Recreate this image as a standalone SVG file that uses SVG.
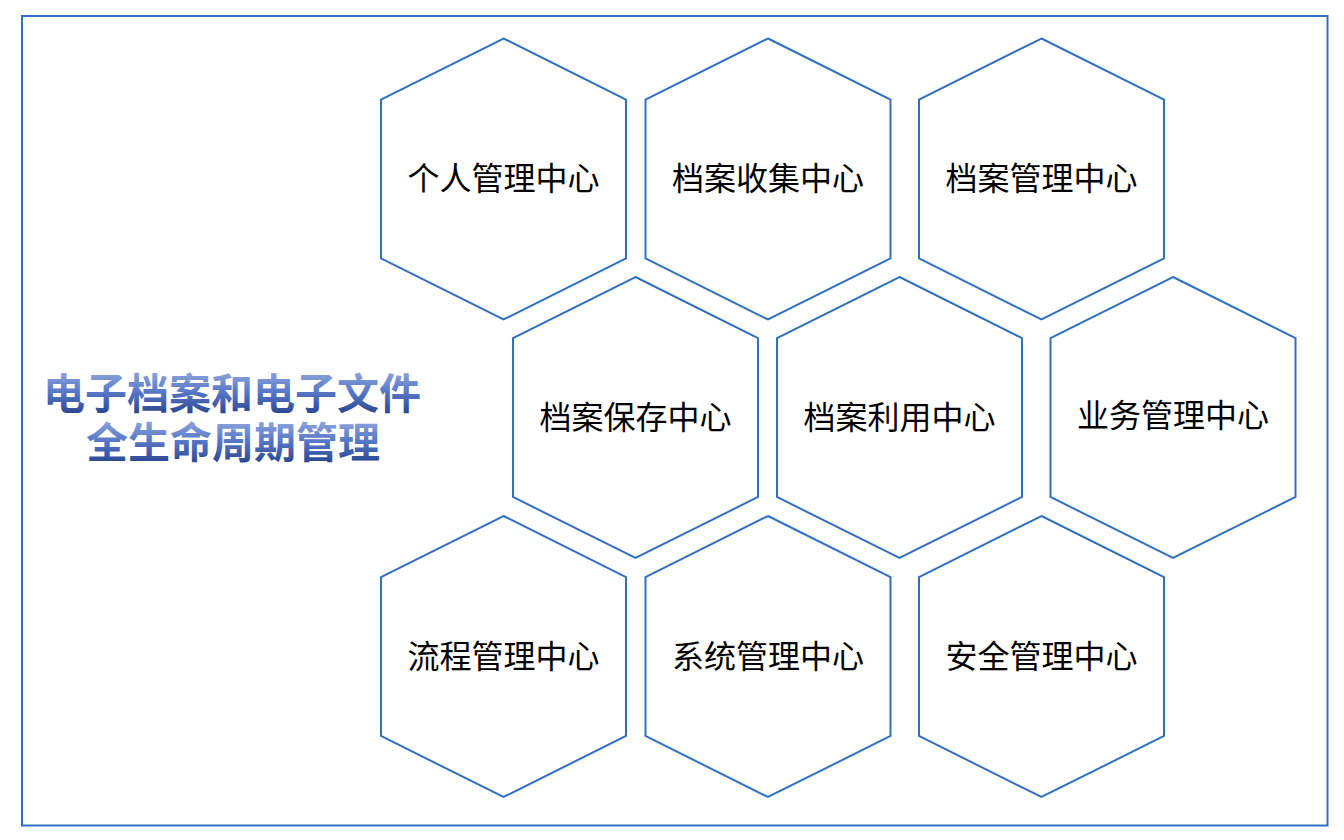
<svg xmlns="http://www.w3.org/2000/svg" width="1344" height="840" viewBox="0 0 1344 840">
<defs>
<linearGradient id="tg1" gradientUnits="userSpaceOnUse" x1="0" y1="373" x2="0" y2="413">
<stop offset="0" stop-color="#8aa2dc"/>
<stop offset="0.5" stop-color="#5575c4"/>
<stop offset="1" stop-color="#2c4892"/>
</linearGradient>
<linearGradient id="tg2" gradientUnits="userSpaceOnUse" x1="0" y1="422" x2="0" y2="462">
<stop offset="0" stop-color="#8aa2dc"/>
<stop offset="0.5" stop-color="#5575c4"/>
<stop offset="1" stop-color="#2c4892"/>
</linearGradient>
<polygon id="hex" points="0,-140.5 122.5,-79.5 122.5,79.5 0,140.5 -122.5,79.5 -122.5,-79.5"/>
</defs>
<style>
.hex{fill:#ffffff;stroke:#3070c0;stroke-width:2}
.lbl{font-family:"Microsoft YaHei","Noto Sans CJK SC",sans-serif;font-size:32px;fill:#000000;text-anchor:middle}
.title{font-family:"Noto Sans CJK SC",sans-serif;font-size:42px;font-weight:bold;text-anchor:middle}
</style>
<rect x="0" y="0" width="1344" height="840" fill="#ffffff"/>
<rect id="frame" x="22" y="16" width="1305.5" height="809.5" fill="none" stroke="#3070c0" stroke-width="2"/>
<g id="title">
<text class="title"><tspan x="232" y="409" fill="url(#tg1)">电子档案和电子文件</tspan><tspan x="233" y="458" fill="url(#tg2)">全生命周期管理</tspan></text>
</g>
<g id="connectors"></g>
<g id="n1" transform="translate(503.5,179)"><use href="#hex" class="hex"/><text class="lbl" x="0" y="11">个人管理中心</text></g>
<g id="n2" transform="translate(768,179)"><use href="#hex" class="hex"/><text class="lbl" x="0" y="11">档案收集中心</text></g>
<g id="n3" transform="translate(1041.5,179)"><use href="#hex" class="hex"/><text class="lbl" x="0" y="11">档案管理中心</text></g>
<g id="n4" transform="translate(635.5,417.5)"><use href="#hex" class="hex"/><text class="lbl" x="0" y="11">档案保存中心</text></g>
<g id="n5" transform="translate(899.5,417.5)"><use href="#hex" class="hex"/><text class="lbl" x="0" y="11">档案利用中心</text></g>
<g id="n6" transform="translate(1173,417.5)"><use href="#hex" class="hex"/><text class="lbl" x="0" y="9">业务管理中心</text></g>
<g id="n7" transform="translate(503.5,656.5)"><use href="#hex" class="hex"/><text class="lbl" x="0" y="11">流程管理中心</text></g>
<g id="n8" transform="translate(768,656.5)"><use href="#hex" class="hex"/><text class="lbl" x="0" y="11">系统管理中心</text></g>
<g id="n9" transform="translate(1041.5,656.5)"><use href="#hex" class="hex"/><text class="lbl" x="0" y="11">安全管理中心</text></g>
</svg>
